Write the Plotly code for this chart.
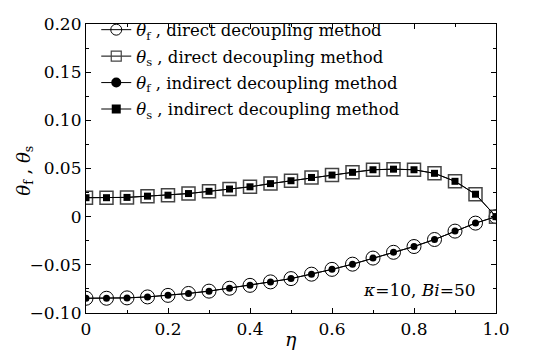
import plotly.graph_objects as go

eta = [0.0, 0.05, 0.1, 0.15, 0.2, 0.25, 0.3, 0.35, 0.4, 0.45, 0.5,
       0.55, 0.6, 0.65, 0.7, 0.75, 0.8, 0.85, 0.9, 0.95, 1.0]
theta_s = [0.0197, 0.0197, 0.0200, 0.0213, 0.0223, 0.0240, 0.0263, 0.0287, 0.0310, 0.0343, 0.0373,
           0.0407, 0.0432, 0.0460, 0.0487, 0.0493, 0.0487, 0.0450, 0.0367, 0.0233, 0.0]
theta_f = [-0.0847, -0.0847, -0.0843, -0.0833, -0.0817, -0.0797, -0.0773, -0.0743, -0.0713, -0.0677, -0.0643,
           -0.0597, -0.0547, -0.0493, -0.0430, -0.0370, -0.0310, -0.0237, -0.0150, -0.0067, 0.0]

legend_names = [
    "<i>θ</i><sub>f</sub> , direct decoupling method",
    "<i>θ</i><sub>s</sub> , direct decoupling method",
    "<i>θ</i><sub>f</sub> , indirect decoupling method",
    "<i>θ</i><sub>s</sub> , indirect decoupling method",
]
x_ticks = [0, 0.2, 0.4, 0.6, 0.8, 1.0]
x_ticktext = ["0", "0.2", "0.4", "0.6", "0.8", "1.0"]
y_ticks = [0.20, 0.15, 0.10, 0.05, 0, -0.05, -0.10]
y_ticktext = ["0.20", "0.15", "0.10", "0.05", "0", "−0.05", "−0.10"]

FONT = "DejaVu Serif"
fig = go.Figure()

styles = [
    dict(symbol="circle-open", size=14, color="black", line=dict(width=1)),
    dict(symbol="square-open", size=13, color="#444", line=dict(width=1.5)),
    dict(symbol="circle", size=7, color="black"),
    dict(symbol="square", size=7, color="black"),
]
legend_styles = [
    dict(symbol="circle-open", size=11, color="black", line=dict(width=1)),
    dict(symbol="square-open", size=10, color="#444", line=dict(width=1.2)),
    dict(symbol="circle", size=10, color="black"),
    dict(symbol="square", size=9, color="black"),
]
series = [theta_f, theta_s, theta_f, theta_s]

for ys, st in zip(series, styles):
    fig.add_trace(go.Scatter(x=eta, y=ys, mode="lines+markers", showlegend=False,
                             line=dict(color="black", width=1), marker=st))
for i, (name, st) in enumerate(zip(legend_names, legend_styles)):
    fig.add_trace(go.Scatter(x=[None], y=[None], name=name, mode="lines+markers",
                             legendgroup=f"g{i}",
                             line=dict(color="black", width=1), marker=st))

axis_common = dict(showline=True, linecolor="black", linewidth=1.2, mirror="ticks",
                   ticks="inside", ticklen=5, tickwidth=1, tickcolor="black",
                   showgrid=False, zeroline=False,
                   tickfont=dict(family=FONT, size=17, color="black"))

fig.update_xaxes(range=[0, 1], tickvals=x_ticks, ticktext=x_ticktext,
                 minor=dict(ticks="inside", ticklen=3, dtick=0.1, tick0=0, tickcolor="black"),
                 **axis_common)
fig.update_yaxes(range=[-0.10, 0.20], tickvals=y_ticks, ticktext=y_ticktext,
                 minor=dict(ticks="inside", ticklen=3, dtick=0.025, tick0=0, tickcolor="black"),
                 **axis_common)

fig.add_annotation(xref="paper", yref="paper", x=-0.185, y=0.493, textangle=-90,
                   text="<i>θ</i><sub>f</sub> , <i>θ</i><sub>s</sub>", showarrow=False,
                   font=dict(family=FONT, size=18, color="black"))
fig.add_annotation(xref="paper", yref="paper", x=0.5, y=-0.09, yanchor="middle",
                   text="<i>η</i>", showarrow=False,
                   font=dict(family=FONT, size=19, color="black"))
fig.add_annotation(xref="paper", yref="paper", x=0.955, y=0.08, xanchor="right", yanchor="middle",
                   text="<i>κ</i>=10, <i>Bi</i>=50", showarrow=False,
                   font=dict(family=FONT, size=17, color="black"))

fig.update_layout(
    width=555, height=357,
    margin=dict(l=86, r=59, t=13, b=44),
    plot_bgcolor="white", paper_bgcolor="white",
    font=dict(family=FONT, size=17, color="black"),
    legend=dict(x=0.025, y=1.04, xanchor="left", yanchor="top", bgcolor="rgba(0,0,0,0)",
                font=dict(family=FONT, size=16.5, color="black"), tracegroupgap=2,
                itemwidth=30),
    showlegend=True,
)

fig.write_html("out.html")
